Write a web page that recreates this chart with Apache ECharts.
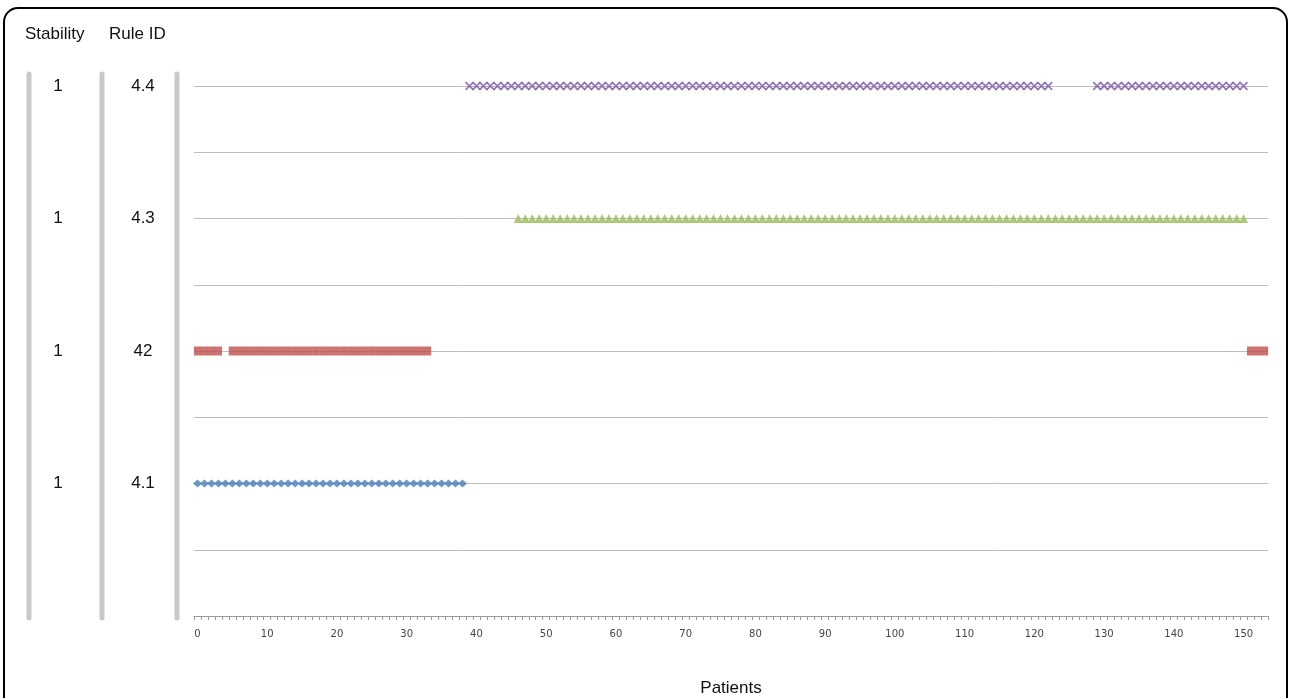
<!DOCTYPE html>
<html>
<head>
<meta charset="utf-8">
<script src="https://cdn.jsdelivr.net/npm/echarts@6/dist/echarts.min.js"></script>
<style>
html,body{margin:0;padding:0;background:#fff;overflow:hidden;}
#chart{width:1290px;height:698px;}
</style>
</head>
<body>
<div id="chart"></div>
<script>
// Patients (x categories)
var patients = ['0','1','2','3','4','5','6','7','8','9','10','11','12','13','14','15','16','17','18','19',
'20','21','22','23','24','25','26','27','28','29','30','31','32','33','34','35','36','37','38','39',
'40','41','42','43','44','45','46','47','48','49','50','51','52','53','54','55','56','57','58','59',
'60','61','62','63','64','65','66','67','68','69','70','71','72','73','74','75','76','77','78','79',
'80','81','82','83','84','85','86','87','88','89','90','91','92','93','94','95','96','97','98','99',
'100','101','102','103','104','105','106','107','108','109','110','111','112','113','114','115','116','117','118','119',
'120','121','122','123','124','125','126','127','128','129','130','131','132','133','134','135','136','137','138','139',
'140','141','142','143','144','145','146','147','148','149','150','151','152','153'];

// Rule levels on the y scale and their printed labels
var ruleLevels = [4.1, 4.2, 4.3, 4.4];
var ruleLabels = ['4.1', '42', '4.3', '4.4'];
var stabilityLabels = ['1', '1', '1', '1'];

// Patients flagged by each rule (patient indices)
var rule41Patients = [0,1,2,3,4,5,6,7,8,9,10,11,12,13,14,15,16,17,18,19,20,21,22,23,24,25,26,27,28,29,30,31,32,33,34,35,36,37,38];
var rule42Patients = [0,1,2,3,5,6,7,8,9,10,11,12,13,14,15,16,17,18,19,20,21,22,23,24,25,26,27,28,29,30,31,32,33,151,152,153];
var rule43Patients = [46,47,48,49,50,51,52,53,54,55,56,57,58,59,60,61,62,63,64,65,66,67,68,69,70,71,72,73,74,75,76,77,78,79,
80,81,82,83,84,85,86,87,88,89,90,91,92,93,94,95,96,97,98,99,100,101,102,103,104,105,106,107,108,109,110,111,112,113,114,115,
116,117,118,119,120,121,122,123,124,125,126,127,128,129,130,131,132,133,134,135,136,137,138,139,140,141,142,143,144,145,146,147,148,149,150];
var rule44Patients = [39,40,41,42,43,44,45,46,47,48,49,50,51,52,53,54,55,56,57,58,59,60,61,62,63,64,65,66,67,68,69,70,71,72,73,74,
75,76,77,78,79,80,81,82,83,84,85,86,87,88,89,90,91,92,93,94,95,96,97,98,99,100,101,102,103,104,105,106,107,108,109,110,111,112,
113,114,115,116,117,118,119,120,121,122,129,130,131,132,133,134,135,136,137,138,139,140,141,142,143,144,145,146,147,148,149,150];

function pts(list, level) {
  return list.map(function (p) { return [p, level]; });
}
function labelFor(v, labels) {
  for (var i = 0; i < ruleLevels.length; i++) {
    if (Math.round(ruleLevels[i] * 100) === Math.round(v * 100)) return labels[i];
  }
  return '';
}

var chart = echarts.init(document.getElementById('chart'));
var FONT = 'Liberation Sans, Arial, sans-serif';
var xPath = 'path://M0,1.4 L1.4,0 L5,3.6 L8.6,0 L10,1.4 L6.4,5 L10,8.6 L8.6,10 L5,6.4 L1.4,10 L0,8.6 L3.6,5 Z';

var option = {
  animation: false,
  backgroundColor: '#ffffff',
  title: [
    { text: 'Stability', left: 20, top: 21, textStyle: { fontFamily: FONT, fontSize: 17, fontWeight: 'normal', color: '#111' } },
    { text: 'Rule ID', left: 104, top: 21, textStyle: { fontFamily: FONT, fontSize: 17, fontWeight: 'normal', color: '#111' } }
  ],
  grid: { left: 194, right: 22, top: 86, bottom: 82, containLabel: false, outerBoundsMode: 'none' },
  xAxis: {
    type: 'category',
    data: patients,
    boundaryGap: true,
    name: 'Patients',
    nameLocation: 'middle',
    nameGap: 64,
    nameTextStyle: { fontFamily: FONT, fontSize: 17, color: '#111' },
    axisLine: { lineStyle: { color: '#9a9a9a', width: 1 } },
    axisTick: { show: true, interval: 0, length: 4, lineStyle: { color: '#9a9a9a' } },
    axisLabel: {
      interval: function (idx) { return idx % 10 === 0; },
      fontFamily: 'DejaVu Sans, sans-serif', fontSize: 10, color: '#444', margin: 13
    },
    splitLine: { show: false }
  },
  yAxis: [
    {
      type: 'value', min: 4.0, max: 4.4, interval: 0.05,
      axisLine: { show: false }, axisTick: { show: false },
      splitLine: { show: true, lineStyle: { color: '#bdbdbd', width: 1 } },
      axisLabel: {
        margin: 51, align: 'center',
        fontFamily: FONT, fontSize: 17, color: '#111',
        formatter: function (v) { return labelFor(v, ruleLabels); }
      }
    },
    {
      type: 'value', min: 4.0, max: 4.4, interval: 0.05, position: 'left',
      axisLine: { show: false }, axisTick: { show: false }, splitLine: { show: false },
      axisLabel: {
        margin: 136, align: 'center',
        fontFamily: FONT, fontSize: 17, color: '#111',
        formatter: function (v) { return labelFor(v, stabilityLabels); }
      }
    }
  ],
  series: [
    { name: '4.1', type: 'scatter', data: pts(rule41Patients, ruleLevels[0]), symbol: 'diamond', symbolSize: [9, 8],
      itemStyle: { color: '#4a7ebb' } },
    { name: '4.2', type: 'scatter', data: pts(rule42Patients, ruleLevels[1]), symbol: 'rect', symbolSize: [7.2, 9],
      itemStyle: { color: '#c0504d' } },
    { name: '4.3', type: 'scatter', data: pts(rule43Patients, ruleLevels[2]), symbol: 'triangle', symbolSize: [9, 9],
      itemStyle: { color: '#9bbb59' } },
    { name: '4.4', type: 'scatter', data: pts(rule44Patients, ruleLevels[3]), symbol: xPath, symbolSize: [9, 9],
      itemStyle: { color: '#7a5aa6' } }
  ],
  graphic: [
    { type: 'rect', shape: { x: 4, y: 8, width: 1283, height: 720, r: 14 }, style: { fill: 'none', stroke: '#000', lineWidth: 2 }, z: 100 },
    { type: 'line', shape: { x1: 29, y1: 74, x2: 29, y2: 618 }, style: { stroke: '#c9c9c9', lineWidth: 5, lineCap: 'round' } },
    { type: 'line', shape: { x1: 102, y1: 74, x2: 102, y2: 618 }, style: { stroke: '#c9c9c9', lineWidth: 5, lineCap: 'round' } },
    { type: 'line', shape: { x1: 177, y1: 74, x2: 177, y2: 618 }, style: { stroke: '#c9c9c9', lineWidth: 5, lineCap: 'round' } }
  ]
};
chart.setOption(option);
</script>
</body>
</html>
